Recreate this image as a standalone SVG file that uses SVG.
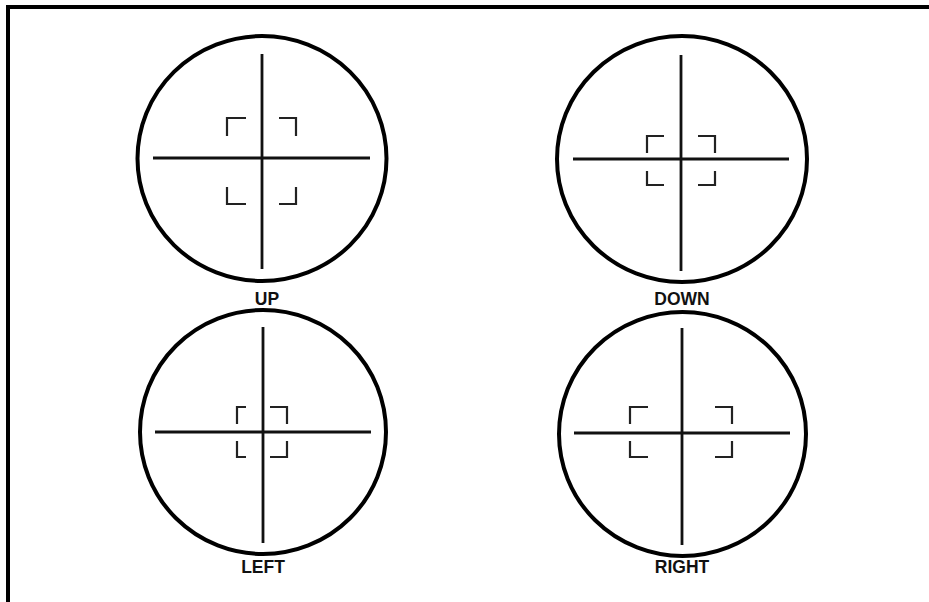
<svg xmlns="http://www.w3.org/2000/svg" width="929" height="602" viewBox="0 0 929 602">
<style>
.ring{fill:none;stroke:#000;stroke-width:4}
.hair{stroke:#111;stroke-width:2.8;fill:none}
.br{stroke:#222;stroke-width:2.2;fill:none}
.lbl{font-family:"Liberation Sans",Arial,sans-serif;font-weight:bold;font-size:17.5px;fill:#111;text-anchor:middle}
</style>
<rect width="929" height="602" fill="#fff"/>
<path d="M8 602 V7 H929" fill="none" stroke="#000" stroke-width="4"/>
<g id="up">
<ellipse class="ring" cx="262" cy="158.5" rx="124.5" ry="122.5"/>
<path class="hair" d="M262 54 V269 M153 158 H370"/>
<path class="br" d="M246 118 H227 V136 M279 118 H296 V136 M227 187 V204 H246 M296 187 V204 H279"/>
<text class="lbl" x="267" y="305">UP</text>
</g>
<g id="down">
<ellipse class="ring" cx="682" cy="159" rx="125" ry="123"/>
<path class="hair" d="M681 55 V271 M573 159 H789"/>
<path class="br" d="M664 136 H647 V153 M698 136 H715 V153 M647 171 V185 H664 M715 171 V185 H698"/>
<text class="lbl" x="682" y="305">DOWN</text>
</g>
<g id="left">
<ellipse class="ring" cx="263" cy="432" rx="123" ry="122"/>
<path class="hair" d="M263 327 V543 M155 432 H371"/>
<path class="br" d="M246 407 H237 V424 M270 407 H287 V424 M237 441 V457 H246 M287 441 V457 H270"/>
<text class="lbl" x="263" y="573">LEFT</text>
</g>
<g id="right">
<ellipse class="ring" cx="682.5" cy="434" rx="123.5" ry="122"/>
<path class="hair" d="M682 328 V545 M574 433 H790"/>
<path class="br" d="M648 407 H630 V424 M715 407 H732 V424 M630 441 V457 H648 M732 441 V457 H715"/>
<text class="lbl" x="682" y="573">RIGHT</text>
</g>
<g id="connectors"/>
</svg>
